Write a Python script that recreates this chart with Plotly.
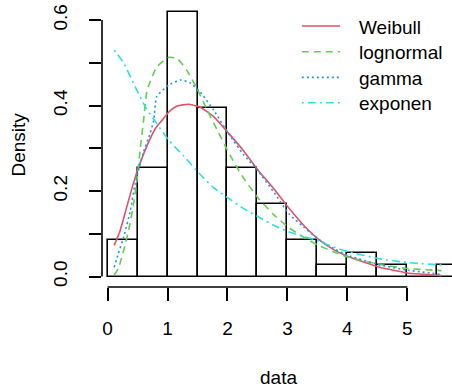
import plotly.graph_objects as go

# Histogram of the sample (bin width 0.5), density scale
bin_left = [0.0, 0.5, 1.0, 1.5, 2.0, 2.5, 3.0, 3.5, 4.0, 4.5, 5.0, 5.5]
bin_width = 0.5
hist_density = [0.0845, 0.2535, 0.6197, 0.3944, 0.2535, 0.1690,
                0.0845, 0.0282, 0.0563, 0.0282, 0.0, 0.0282]

# Fitted density curves
weibull_x = [0.11, 0.21, 0.32, 0.43, 0.52, 0.66, 0.80, 0.91, 1.02, 1.16, 1.35, 1.545,
             1.77, 2.02, 2.27, 2.51, 2.77, 3.03, 3.27, 3.52, 3.77, 4.0, 4.27, 4.52,
             4.77, 5.0, 5.27, 5.57]
weibull_y = [0.073, 0.108, 0.163, 0.218, 0.257, 0.307, 0.347, 0.366, 0.385, 0.399, 0.403, 0.396,
             0.374, 0.335, 0.294, 0.249, 0.206, 0.159, 0.120, 0.087, 0.063, 0.0475, 0.034, 0.0225,
             0.0148, 0.0085, 0.0054, 0.0023]

lognormal_x = [0.11, 0.18, 0.27, 0.35, 0.43, 0.49, 0.545, 0.60, 0.66, 0.82, 1.02, 1.16,
               1.32, 1.49, 1.66, 1.82, 2.02, 2.24, 2.51, 2.77, 3.03, 3.27, 3.52, 3.77,
               4.0, 4.52, 5.0, 5.57]
lognormal_y = [0.003, 0.019, 0.062, 0.108, 0.167, 0.225, 0.300, 0.365, 0.436, 0.490, 0.513, 0.510,
               0.483, 0.440, 0.390, 0.345, 0.290, 0.236, 0.184, 0.145, 0.114, 0.092, 0.073, 0.058,
               0.046, 0.029, 0.019, 0.014]

gamma_x = [0.11, 0.18, 0.27, 0.38, 0.46, 0.53, 0.60, 0.71, 0.77, 0.82, 1.02, 1.21,
           1.38, 1.545, 1.77, 2.02, 2.27, 2.51, 2.77, 3.03, 3.27, 3.52, 3.77, 4.0,
           4.52, 5.0, 5.57]
gamma_y = [0.022, 0.054, 0.093, 0.155, 0.218, 0.257, 0.292, 0.335, 0.366, 0.421, 0.448, 0.460,
           0.453, 0.432, 0.389, 0.334, 0.285, 0.247, 0.198, 0.146, 0.116, 0.087, 0.066, 0.050,
           0.028, 0.015, 0.005]

expo_x = [0.11, 0.27, 0.46, 0.63, 0.82, 1.02, 1.27, 1.53, 1.77, 2.02, 2.27, 2.51,
          2.77, 3.03, 3.27, 3.52, 3.77, 4.0, 4.52, 5.0, 5.57]
expo_y = [0.530, 0.499, 0.444, 0.397, 0.358, 0.319, 0.282, 0.241, 0.208, 0.183, 0.159, 0.140,
          0.120, 0.104, 0.094, 0.083, 0.069, 0.059, 0.042, 0.033, 0.027]

series_names = ["Weibull", "lognormal", "gamma", "exponen"]
series_colors = ["#DF536B", "#61D04F", "#2297E6", "#28E2E5"]
series_dash = ["solid", "7px,5px", "2px,3px", "2px,4px,8px,4px"]

FONT = "Liberation Sans, Arial, sans-serif"
FS = 19
W, H = 452, 391
L, R, T, B = 101.7, 0, 1, 104.3

fig = go.Figure()

fig.add_trace(go.Bar(
    x=[b + bin_width / 2 for b in bin_left],
    y=hist_density,
    width=bin_width,
    marker=dict(color="rgba(0,0,0,0)", line=dict(color="black", width=1.6)),
    showlegend=False,
))

curves = [(weibull_x, weibull_y), (lognormal_x, lognormal_y),
          (gamma_x, gamma_y), (expo_x, expo_y)]
for (xs, ys), name, col, dash in zip(curves, series_names, series_colors, series_dash):
    fig.add_trace(go.Scatter(
        x=xs, y=ys, mode="lines", name=name,
        line=dict(color=col, width=1.6, dash=dash, shape="spline", smoothing=0.5),
        showlegend=False,
    ))

x_range = [-0.0933, 5.745]
y_range = [-0.0244, 0.6447]

y_ticks = [0.0, 0.1, 0.2, 0.3, 0.4, 0.5, 0.6]
y_ticktext = ["0.0", "", "0.2", "", "0.4", "", "0.6"]
x_ticks = [0, 1, 2, 3, 4, 5]

fig.update_xaxes(
    range=x_range, showgrid=False, zeroline=False, showline=False,
    tickvals=x_ticks, ticktext=[str(v) for v in x_ticks],
    ticks="outside", ticklen=12.5, tickwidth=1.6, tickcolor="black",
    ticklabelstandoff=12,
    tickfont=dict(family=FONT, size=FS, color="black"),
)
fig.update_yaxes(
    range=y_range, showgrid=False, zeroline=False, showline=False,
    tickvals=y_ticks, ticktext=y_ticktext, tickangle=-90,
    ticks="outside", ticklen=12.5, tickwidth=1.6, tickcolor="black",
    ticklabelstandoff=14,
    tickfont=dict(family=FONT, size=FS, color="black"),
)

# R-style axis lines spanning only the tick range
fig.add_shape(type="line", xref="x", yref="paper", x0=0, x1=5, y0=0, y1=0,
              line=dict(color="black", width=1.6))
fig.add_shape(type="line", xref="paper", yref="y", x0=0, x1=0, y0=0, y1=0.6,
              line=dict(color="black", width=1.6))

pw = W - L - R
ph = H - T - B

def px_to_paper_x(px):
    return (px - L) / pw

def py_to_paper_y(py):
    return (H - B - py) / ph

# Legend (top right, no box)
legend_rows = [26, 51.7, 77.3, 102.6]
for name, col, dash, row in zip(series_names, series_colors, series_dash, legend_rows):
    fig.add_shape(type="line", xref="paper", yref="paper",
                  x0=px_to_paper_x(301.7), x1=px_to_paper_x(340),
                  y0=py_to_paper_y(row), y1=py_to_paper_y(row),
                  line=dict(color=col, width=1.6, dash=dash))
    fig.add_annotation(text=name, xref="paper", yref="paper",
                       x=px_to_paper_x(357), y=py_to_paper_y(row + 1),
                       xanchor="left", yanchor="middle", showarrow=False,
                       font=dict(family=FONT, size=FS, color="black"))

fig.add_annotation(text="data", xref="paper", yref="paper",
                   x=px_to_paper_x(278), y=py_to_paper_y(377),
                   xanchor="center", yanchor="middle", showarrow=False,
                   font=dict(family=FONT, size=FS, color="black"))
fig.add_annotation(text="Density", xref="paper", yref="paper",
                   x=px_to_paper_x(18), y=py_to_paper_y(144), textangle=-90,
                   xanchor="center", yanchor="middle", showarrow=False,
                   font=dict(family=FONT, size=FS, color="black"))

fig.update_layout(
    width=W, height=H,
    margin=dict(l=L, r=R, t=T, b=B, pad=0),
    paper_bgcolor="white", plot_bgcolor="white",
    showlegend=False, bargap=0,
)

fig.write_html("out.html")
